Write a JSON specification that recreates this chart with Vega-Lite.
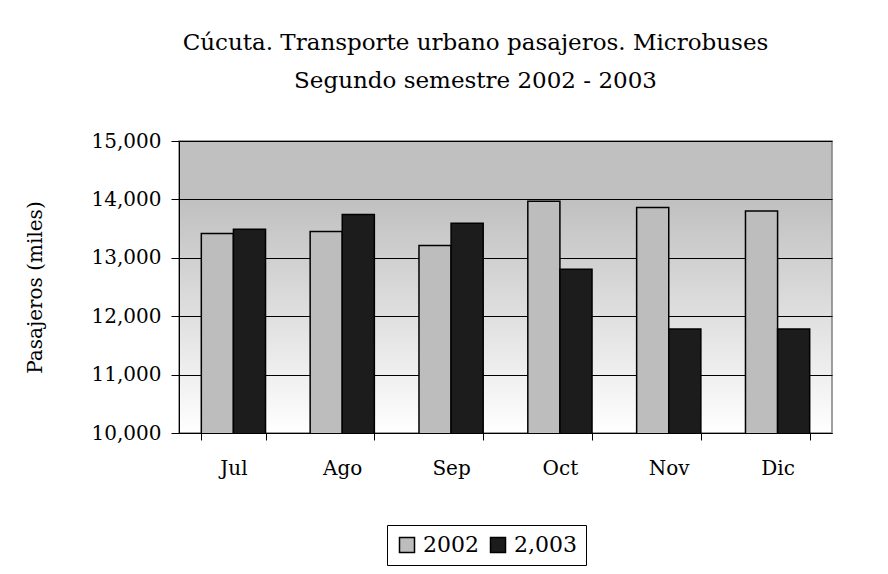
{
  "$schema": "https://vega.github.io/schema/vega-lite/v6.json",
  "autosize": {"type": "none"},
  "width": 653,
  "height": 292,
  "padding": {"left": 179, "top": 141, "right": 56, "bottom": 141},
  "background": "#ffffff",
  "title": {
    "text": ["Cúcuta. Transporte urbano pasajeros.  Microbuses", "Segundo semestre 2002 - 2003"],
    "font": "DejaVu Serif",
    "fontSize": 23,
    "fontWeight": "normal",
    "color": "#000000",
    "anchor": "middle",
    "dx": -30,
    "offset": 38,
    "lineHeight": 38
  },
  "data": {
    "values": [
      {"mes": "Jul", "anio": "2002", "pasajeros": 13415},
      {"mes": "Jul", "anio": "2,003", "pasajeros": 13490},
      {"mes": "Ago", "anio": "2002", "pasajeros": 13450},
      {"mes": "Ago", "anio": "2,003", "pasajeros": 13740},
      {"mes": "Sep", "anio": "2002", "pasajeros": 13210},
      {"mes": "Sep", "anio": "2,003", "pasajeros": 13590},
      {"mes": "Oct", "anio": "2002", "pasajeros": 13970},
      {"mes": "Oct", "anio": "2,003", "pasajeros": 12805},
      {"mes": "Nov", "anio": "2002", "pasajeros": 13860},
      {"mes": "Nov", "anio": "2,003", "pasajeros": 11780},
      {"mes": "Dic", "anio": "2002", "pasajeros": 13800},
      {"mes": "Dic", "anio": "2,003", "pasajeros": 11780}
    ]
  },
  "mark": {"type": "bar", "stroke": "#000000", "strokeWidth": 1.5, "clip": true},
  "encoding": {
    "x": {
      "field": "mes",
      "type": "nominal",
      "sort": ["Jul", "Ago", "Sep", "Oct", "Nov", "Dic"],
      "scale": {"paddingInner": 0.41, "paddingOuter": 0.205},
      "axis": {
        "title": null,
        "labelAngle": 0,
        "tickBand": "extent",
        "labelFont": "DejaVu Serif",
        "labelFontSize": 20,
        "labelColor": "#000000",
        "labelPadding": 18,
        "tickSize": 7,
        "tickColor": "#000000",
        "domainColor": "#000000",
        "grid": false
      }
    },
    "xOffset": {
      "field": "anio",
      "type": "nominal",
      "sort": ["2002", "2,003"],
      "scale": {"paddingInner": 0, "paddingOuter": 0}
    },
    "y": {
      "field": "pasajeros",
      "type": "quantitative",
      "scale": {"domain": [10000, 15000], "zero": false, "nice": false},
      "axis": {
        "title": "Pasajeros (miles)",
        "titleFont": "DejaVu Serif",
        "titleFontSize": 20,
        "titleFontWeight": "normal",
        "titleColor": "#000000",
        "titlePadding": 46,
        "values": [10000, 11000, 12000, 13000, 14000, 15000],
        "format": ",d",
        "labelFont": "DejaVu Serif",
        "labelFontSize": 20,
        "labelColor": "#000000",
        "labelPadding": 10,
        "tickSize": 8,
        "tickColor": "#000000",
        "domainColor": "#000000",
        "grid": true,
        "gridColor": "#000000",
        "gridWidth": 1
      }
    },
    "color": {
      "field": "anio",
      "type": "nominal",
      "sort": ["2002", "2,003"],
      "scale": {"domain": ["2002", "2,003"], "range": ["#bdbdbd", "#1c1c1c"]},
      "legend": {
        "title": null,
        "orient": "none",
        "direction": "horizontal",
        "legendX": 208,
        "legendY": 384,
        "symbolType": "square",
        "symbolSize": 225,
        "symbolStrokeColor": "#000000",
        "symbolStrokeWidth": 1.5,
        "labelFont": "DejaVu Serif",
        "labelFontSize": 22,
        "labelColor": "#000000",
        "labelOffset": 5,
        "columnPadding": 8,
        "strokeColor": "#000000",
        "padding": 9
      }
    }
  },
  "config": {
    "view": {
      "stroke": "#808080",
      "strokeWidth": 1.5,
      "fill": {
        "gradient": "linear",
        "x1": 0, "y1": 0, "x2": 0, "y2": 1,
        "stops": [
          {"offset": 0, "color": "#c0c0c0"},
          {"offset": 0.2, "color": "#c0c0c0"},
          {"offset": 1, "color": "#ffffff"}
        ]
      }
    }
  }
}
